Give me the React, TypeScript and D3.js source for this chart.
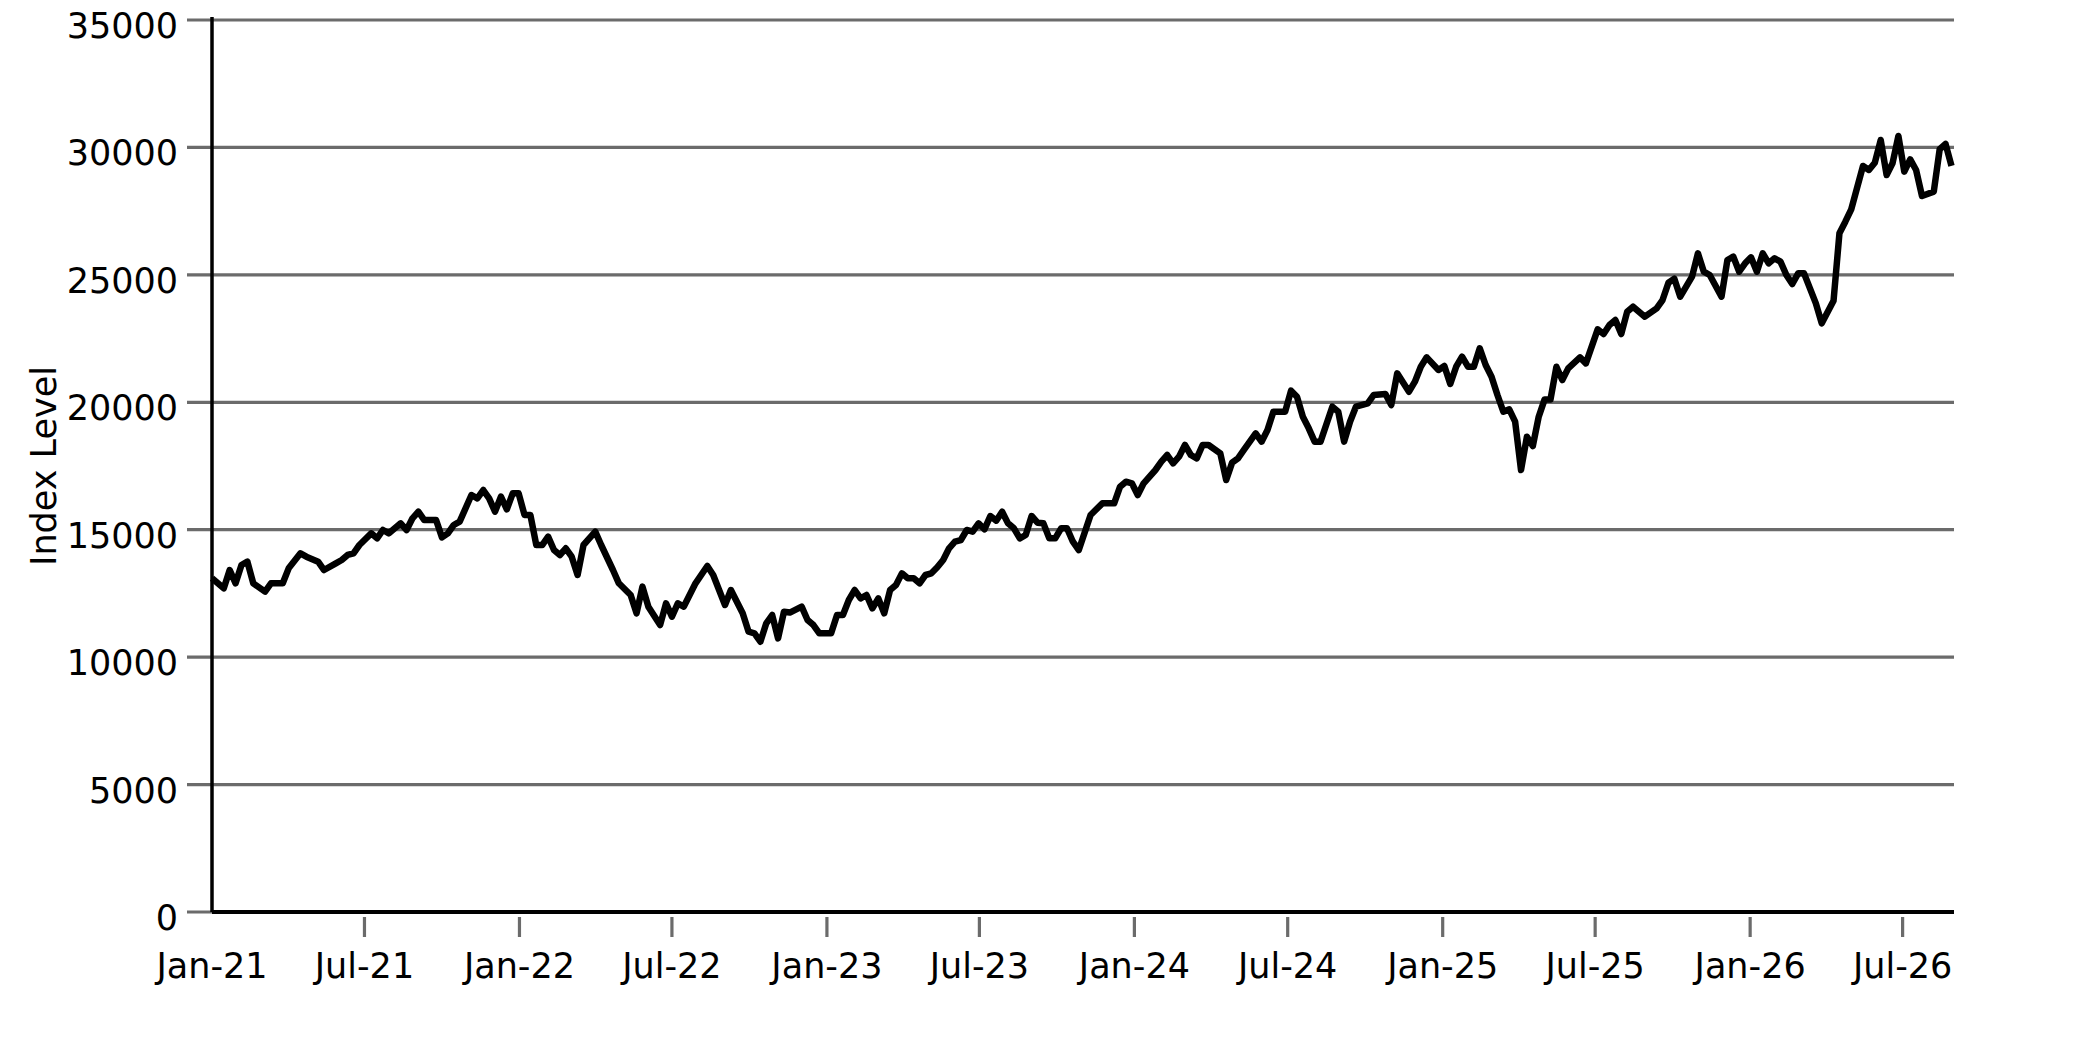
import React from "react";
import * as d3 from "d3";

// Weekly index readings: week offset from 2021-01-01 and index level
const WEEKS = [
  0, 2, 3, 4, 5, 6, 7, 9, 10, 12, 13, 15, 16, 18, 19, 21, 22, 23, 24, 25, 27, 28, 29, 30, 32, 33, 34, 35, 36, 38, 39, 40,
  41, 42, 44, 45, 46, 47, 48, 49, 50, 51, 52, 53, 54, 55, 56, 57, 58, 59, 60, 61, 62, 63, 65, 66, 68, 69, 71, 72, 73, 74,
  76, 77, 78, 79, 80, 82, 84, 85, 87, 88, 90, 91, 92, 93, 94, 95, 96, 97, 98, 100, 101, 102, 103, 105, 106, 107, 108, 109,
  110, 111, 112, 113, 114, 115, 116, 117, 118, 119, 120, 121, 122, 123, 124, 125, 126, 127, 128, 129, 130, 131, 132, 133,
  134, 135, 136, 137, 138, 139, 140, 141, 142, 143, 144, 145, 146, 147, 149, 151, 153, 154, 155, 156, 157, 158, 160, 161,
  162, 163, 164, 165, 166, 167, 168, 169, 171, 172, 173, 174, 175, 176, 177, 178, 179, 180, 182, 183, 184, 185, 186, 187,
  188, 190, 191, 192, 193, 194, 196, 197, 199, 200, 201, 203, 204, 205, 206, 208, 209, 210, 211, 212, 213, 214, 215, 216,
  217, 218, 219, 220, 221, 222, 223, 224, 225, 226, 227, 228, 229, 230, 232, 233, 235, 236, 237, 238, 239, 240, 241, 243,
  245, 246, 247, 248, 249, 251, 252, 253, 254, 256, 257, 258, 259, 260, 261, 262, 263, 264, 265, 266, 267, 268, 269, 270,
  271, 272, 273, 275, 276, 277, 278, 280, 281, 282, 283, 284, 285, 286, 287, 288, 289, 290, 292, 293, 294, 295,
];

const VALUES = [
  13093, 12700, 13419, 12897, 13615, 13746, 12897, 12569, 12897, 12897, 13485, 14074, 13943, 13746, 13419, 13681, 13812,
  14008, 14074, 14400, 14858, 14662, 14989, 14858, 15250, 14989, 15447, 15708, 15381, 15381, 14701, 14858, 15185, 15316,
  16362, 16231, 16558, 16231, 15708, 16300, 15800, 16428, 16428, 15577, 15577, 14400, 14400, 14727, 14204, 14008, 14270,
  13943, 13223, 14400, 14923, 14400, 13419, 12897, 12438, 11719, 12765, 11980, 11261, 12111, 11588, 12111, 11980, 12897,
  13576, 13223, 12046, 12634, 11719, 10998, 10934, 10606, 11327, 11653, 10738, 11784, 11750, 11980, 11457, 11261, 10934,
  10934, 11653, 11653, 12242, 12634, 12308, 12438, 11915, 12308, 11719, 12634, 12830, 13288, 13093, 13093, 12897, 13223,
  13288, 13524, 13812, 14270, 14530, 14596, 14989, 14923, 15250, 15015, 15538, 15355, 15708, 15250, 15055, 14662, 14792,
  15538, 15276, 15250, 14662, 14662, 15055, 15055, 14530, 14204, 15577, 16035, 16035, 16689, 16885, 16820, 16362, 16820,
  17343, 17670, 17931, 17605, 17866, 18324, 17931, 17800, 18324, 18324, 17997, 16950, 17631, 17800, 18128, 18455, 18782,
  18455, 18913, 19630, 19630, 20455, 20219, 19434, 18978, 18455, 18455, 19827, 19630, 18455, 19238, 19827, 19958, 20284,
  20324, 19893, 21136, 20415, 20808, 21396, 21763, 21267, 21423, 20717, 21396, 21789, 21396, 21396, 22116, 21462, 21004,
  20285, 19630, 19722, 19238, 17343, 18651, 18285, 19434, 20114, 20114, 21396, 20874, 21331, 21763, 21527, 22861, 22679,
  23032, 23228, 22679, 23554, 23750, 23358, 23686, 24013, 24692, 24850, 24143, 24928, 25845, 25124, 24994, 24143, 25583,
  25713, 25124, 25452, 25688, 25124, 25845, 25452, 25649, 25518, 24994, 24641, 25060, 25060, 24471, 23883, 23098, 23986,
  26630, 27085, 27571, 29273, 29116, 29400, 30291, 28920, 29376, 30448, 29050, 29533, 29116, 28095, 28265, 29927, 30134,
  29273,
];

const Y_TICKS = [0, 5000, 10000, 15000, 20000, 25000, 30000, 35000];
const X_TICK_LABELS = [
  "Jan-21", "Jul-21", "Jan-22", "Jul-22", "Jan-23", "Jul-23", "Jan-24", "Jul-24", "Jan-25", "Jul-25", "Jan-26", "Jul-26",
];
const X_TICK_DATES = [
  "2021-01-01", "2021-07-01", "2022-01-01", "2022-07-01", "2023-01-01", "2023-07-01", "2024-01-01", "2024-07-01",
  "2025-01-01", "2025-07-01", "2026-01-01", "2026-07-01",
];
const START = "2021-01-01";
const END = "2026-08-31";
const Y_TITLE = "Index Level";

const W = 2083;
const H = 1042;
const LEFT = 212;
const RIGHT = 1954;
const TOP = 20;
const BOTTOM = 912;
const FONT = "'DejaVu Sans', sans-serif";
const GRID = "#6b6b6b";

export default function App() {
  const parse = d3.utcParse("%Y-%m-%d");
  const start = parse(START) as Date;
  const x = d3.scaleUtc().domain([start, parse(END) as Date]).range([LEFT, RIGHT]);
  const y = d3.scaleLinear().domain([0, 35000]).range([BOTTOM, TOP]);

  const data = WEEKS.map((w, i) => ({ d: d3.utcDay.offset(start, w * 7), v: VALUES[i] }));
  const line = d3
    .line<{ d: Date; v: number }>()
    .x((p) => x(p.d))
    .y((p) => y(p.v));

  return (
    <svg
      width={W}
      height={H}
      style={{ position: "absolute", left: 0, top: 0, display: "block", background: "#fff" }}
      fontFamily={FONT}
    >
      {Y_TICKS.map((t) => (
        <g key={t}>
          <line x1={LEFT - 25} x2={RIGHT} y1={y(t)} y2={y(t)} stroke={GRID} strokeWidth={3.2} />
          <text x={178} y={y(t) + 18} fontSize={35} textAnchor="end" fill="#000">
            {t}
          </text>
        </g>
      ))}
      {X_TICK_DATES.map((s, i) => {
        const xx = x(parse(s) as Date);
        return (
          <g key={s}>
            {i > 0 && <line x1={xx} x2={xx} y1={917} y2={937} stroke={GRID} strokeWidth={3.2} />}
            <text x={xx} y={978} fontSize={35} textAnchor="middle" fill="#000">
              {X_TICK_LABELS[i]}
            </text>
          </g>
        );
      })}
      <line x1={LEFT} x2={LEFT} y1={TOP - 3} y2={BOTTOM} stroke="#000" strokeWidth={3.5} />
      <line x1={LEFT} x2={RIGHT} y1={BOTTOM} y2={BOTTOM} stroke="#000" strokeWidth={4} />
      <path d={line(data) ?? ""} fill="none" stroke="#000" strokeWidth={6.5} strokeLinejoin="round" strokeLinecap="butt" />
      <text transform={`translate(56, ${(TOP + BOTTOM) / 2}) rotate(-90)`} fontSize={35} textAnchor="middle" fill="#000">
        {Y_TITLE}
      </text>
    </svg>
  );
}
